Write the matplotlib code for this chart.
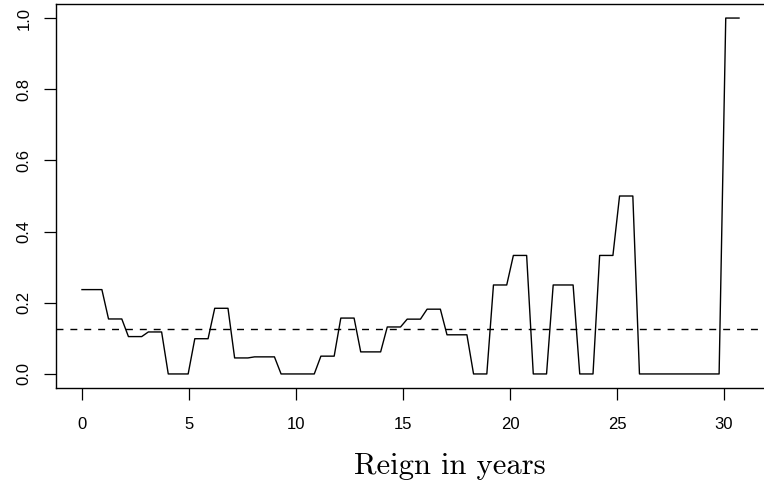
import numpy as np
import matplotlib
matplotlib.use('Agg')
import matplotlib.pyplot as plt

# estimated yearly rate (index = year of reign)
years = np.arange(0, 31)
rate = [0.237, 0.1545, 0.105, 0.118, 0.0, 0.099, 0.1845, 0.045, 0.048, 0.0,
        0.0, 0.05, 0.157, 0.062, 0.132, 0.154, 0.182, 0.110, 0.0, 0.25,
        0.333, 0.0, 0.25, 0.0, 0.333, 0.5, 0.0, 0.0, 0.0, 0.0,
        1.0]
overall_rate = 0.127
reign_max = 30.7
n_grid = 100

xticks = [0, 5, 10, 15, 20, 25, 30]
yticks = [0.0, 0.2, 0.4, 0.6, 0.8, 1.0]

# curve is evaluated on a grid, as in the original plot
xg = np.linspace(0, reign_max, n_grid)
yg = np.array(rate)[np.floor(xg).astype(int)]

plt.rcParams['font.family'] = ['Liberation Sans', 'DejaVu Sans']

fig = plt.figure(figsize=(7.64, 4.83), dpi=100)
ax = fig.add_axes([0.0729, 0.1963, 0.9288, 0.7958])
ax.plot(xg, yg, color='black', lw=1.0)
ax.axhline(overall_rate, color='black', lw=1.0, ls=(0, (5, 5)))

xr = reign_max * 0.04
ax.set_xlim(-xr, reign_max + xr)
ax.set_ylim(-0.04, 1.04)

ax.set_xticks(xticks)
ax.set_xticklabels([str(t) for t in xticks])
ax.set_yticks(yticks)
ax.set_yticklabels([f'{t:.1f}' for t in yticks], rotation=90, va='center')
ax.tick_params(direction='out', length=8.5, width=0.9, labelsize=12, color='black')
ax.tick_params(axis='x', pad=12)
ax.tick_params(axis='y', pad=9)
for s in ax.spines.values():
    s.set_linewidth(1.0)

fig.text(450 / 764, 1 - 466 / 483, 'Reign in years', fontfamily='cmr10',
         fontsize=22, ha='center', va='center')

fig.savefig('out.png', dpi=100)
